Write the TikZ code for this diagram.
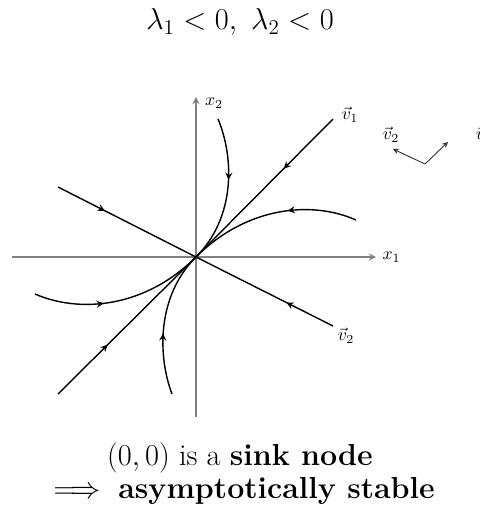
\documentclass[tikz,border=0pt]{standalone}
\usepackage{amsmath, amssymb}
\usetikzlibrary{decorations.markings}

\tikzset{
  axis/.style={->, gray, line width=0.8pt},
  orbit/.style={line width=0.8pt},
  caption/.style={inner sep=0pt, font=\LARGE},
  midarrow/.style={postaction={decorate},
    decoration={markings, mark=at position #1 with {\arrow{stealth}}}}
}

\begin{document}
\begin{tikzpicture}[>=stealth, x=0.02cm, y=0.02cm]
  \useasboundingbox (-196,-257) rectangle (284,257);
  \coordinate (O) at (0,0);
  % axes
  \draw[axis] (-184,0) -- (180,0) node[right, black] (xone) {$x_1$};
  \draw[axis] (0,-160) -- (0,160) coordinate (ytop);
  \node[right] (xtwo) at (3,154) {$x_2$};
  % eigenvector lines
  \draw[orbit, midarrow=0.36] (137,138) -- (O);
  \draw[orbit, midarrow=0.36] (-138,-137) -- (O);
  \draw[orbit, midarrow=0.34] (137,-69) -- (O);
  \draw[orbit, midarrow=0.34] (-138,70) -- (O);
  \node (vone) at (154,142) {$\vec{v}_1$};
  \node (vtwo) at (150,-79) {$\vec{v}_2$};
  % trajectories (schematic)
  \draw[orbit, midarrow=0.42] (22,138) .. controls (38,100) and (40,40) .. (O);
  \draw[orbit, midarrow=0.42] (-24,-137) .. controls (-38,-100) and (-40,-40) .. (O);
  \draw[orbit, midarrow=0.4] (160,37) .. controls (115,57) and (50,50) .. (O);
  \draw[orbit, midarrow=0.4] (-161,-37) .. controls (-115,-57) and (-50,-50) .. (O);
  % small eigenvector sketch
  \coordinate (base) at (229,93);
  \draw[->, line width=0.5pt, black!80] (base) -- (252,115);
  \draw[->, line width=0.5pt, black!80] (base) -- (197,108);
  \node (vtwos) at (195,122) {$\vec{v}_2$};
  \node (vones) at (288,122) {$\vec{v}_1$};
  % captions
  \node[caption] (title) at (44,235) {$\lambda_1<0,\ \lambda_2<0$};
  \node[caption] (sink) at (44,-201) {$(0,0)$ is a \textbf{sink node}};
  \node[caption] (stable) at (44,-234) {$\implies$ \textbf{asymptotically stable}};
\end{tikzpicture}
\end{document}
